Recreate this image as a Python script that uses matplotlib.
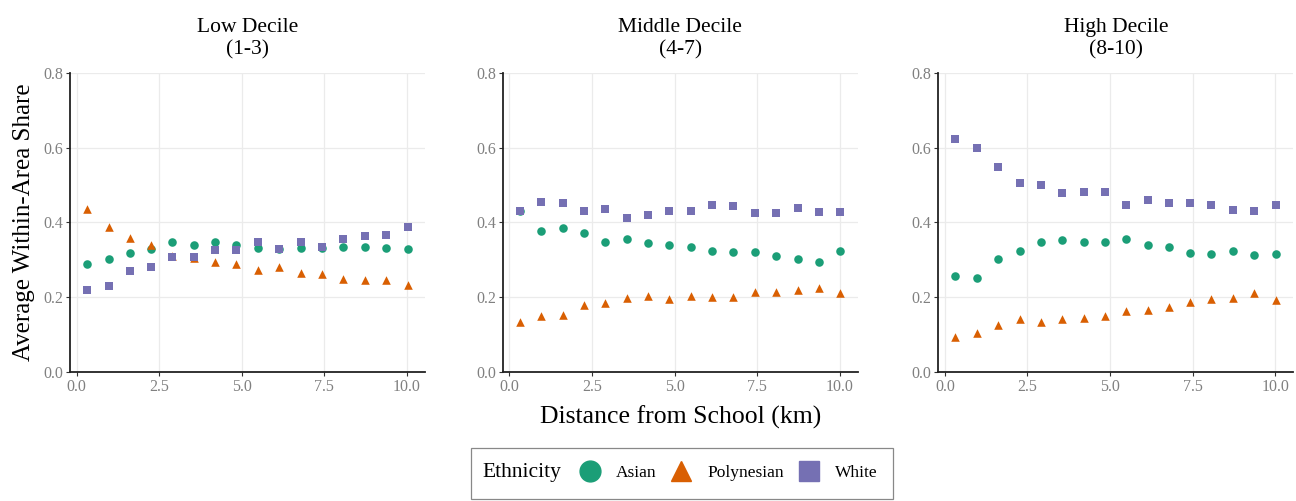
import matplotlib
matplotlib.use("Agg")
from matplotlib import pyplot as plt
from matplotlib.lines import Line2D
from matplotlib.patches import Rectangle

plt.rcParams['font.family'] = ['Liberation Serif', 'DejaVu Serif']

distance = [0.32, 0.97, 1.61, 2.26, 2.9, 3.55, 4.2, 4.84, 5.49, 6.14, 6.78, 7.43, 8.07, 8.72, 9.37, 10.02]

panel_titles = ["Low Decile\n(1-3)", "Middle Decile\n(4-7)", "High Decile\n(8-10)"]

asian_low = [0.289, 0.303, 0.317, 0.328, 0.347, 0.340, 0.347, 0.340, 0.331, 0.330, 0.331, 0.331, 0.335, 0.333, 0.331, 0.330]
poly_low = [0.437, 0.389, 0.359, 0.341, 0.310, 0.305, 0.294, 0.290, 0.273, 0.280, 0.266, 0.262, 0.248, 0.246, 0.246, 0.232]
white_low = [0.219, 0.230, 0.269, 0.280, 0.307, 0.307, 0.326, 0.326, 0.349, 0.330, 0.347, 0.335, 0.355, 0.364, 0.367, 0.387]

asian_mid = [0.431, 0.378, 0.385, 0.372, 0.349, 0.355, 0.346, 0.339, 0.335, 0.323, 0.321, 0.321, 0.310, 0.301, 0.294, 0.323]
poly_mid = [0.134, 0.151, 0.153, 0.178, 0.185, 0.198, 0.203, 0.194, 0.203, 0.200, 0.200, 0.214, 0.214, 0.219, 0.225, 0.210]
white_mid = [0.431, 0.456, 0.451, 0.431, 0.437, 0.413, 0.419, 0.431, 0.431, 0.447, 0.444, 0.426, 0.426, 0.438, 0.429, 0.429]

asian_high = [0.257, 0.251, 0.303, 0.323, 0.347, 0.353, 0.349, 0.347, 0.355, 0.340, 0.335, 0.319, 0.315, 0.323, 0.314, 0.315]
poly_high = [0.094, 0.105, 0.127, 0.141, 0.134, 0.143, 0.144, 0.150, 0.162, 0.166, 0.175, 0.187, 0.194, 0.198, 0.212, 0.192]
white_high = [0.622, 0.600, 0.549, 0.506, 0.499, 0.479, 0.481, 0.481, 0.447, 0.460, 0.453, 0.453, 0.446, 0.433, 0.431, 0.446]

groups = ["Asian", "Polynesian", "White"]
colors = {"Asian": "#1B9E77", "Polynesian": "#D95F02", "White": "#7570B3"}
markers = {"Asian": "o", "Polynesian": "^", "White": "s"}

panels = [
    {"Asian": asian_low, "Polynesian": poly_low, "White": white_low},
    {"Asian": asian_mid, "Polynesian": poly_mid, "White": white_mid},
    {"Asian": asian_high, "Polynesian": poly_high, "White": white_high},
]

fig = plt.figure(figsize=(12.96, 5.01), dpi=100)
lefts = [0.054, 0.388, 0.724]
axes = [fig.add_axes([l, 0.2575, 0.274, 0.597]) for l in lefts]

for ax, title, data in zip(axes, panel_titles, panels):
    for g in groups:
        ax.scatter(distance, data[g], marker=markers[g], color=colors[g],
                   s=38, linewidths=0, zorder=3)
    ax.set_xlim(-0.2, 10.55)
    ax.set_ylim(0, 0.8)
    ax.set_xticks([0, 2.5, 5.0, 7.5, 10.0])
    ax.set_yticks([0, 0.2, 0.4, 0.6, 0.8])
    ax.xaxis.set_major_formatter(matplotlib.ticker.FormatStrFormatter('%.1f'))
    ax.yaxis.set_major_formatter(matplotlib.ticker.FormatStrFormatter('%.1f'))
    ax.grid(True, color="#EBEBEB", linewidth=0.9)
    ax.set_axisbelow(True)
    for side in ["top", "right"]:
        ax.spines[side].set_visible(False)
    for side in ["left", "bottom"]:
        ax.spines[side].set_linewidth(1.3)
        ax.spines[side].set_color("#222222")
    ax.tick_params(axis="both", labelsize=11.5, colors="#333333", labelcolor="#808080",
                   length=3, width=0.8, pad=2)
    ax.set_title(title, fontsize=15.5, linespacing=1.25, pad=13)

axes[0].set_ylabel("Average Within-Area Share", fontsize=18, labelpad=6)
axes[1].set_xlabel("Distance from School (km)", fontsize=18.5, labelpad=8)

# legend: boxed, with the "Ethnicity" title on the left
handles = [Line2D([], [], linestyle="none", marker=markers[g], color=colors[g],
                  markersize=15) for g in groups]
fig.legend(handles, groups, loc="center", bbox_to_anchor=(0.5615, 0.056),
           ncol=3, frameon=False, handlelength=1.4, handletextpad=0.8,
           columnspacing=0.75, borderpad=0, fontsize=12.5)
fig.text(482 / 1296, 0.056, "Ethnicity", fontsize=15.5, ha="left", va="center")
fig.patches.append(Rectangle((471 / 1296, 2 / 501), 422 / 1296, 51 / 501,
                             transform=fig.transFigure, fill=False,
                             edgecolor="#888888", linewidth=0.9))

fig.savefig("out.png", dpi=100)
